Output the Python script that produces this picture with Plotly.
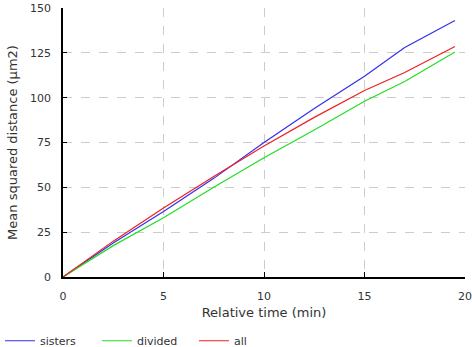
import plotly.graph_objects as go

time_sisters = [0, 2.5, 5, 7.5, 10, 12.5, 15, 17, 19.5]
msd_sisters = [0, 19, 36.5, 55, 75, 94, 112, 128, 143]
time_divided = [0, 2.5, 5, 7.5, 10, 12.5, 15, 17, 19.5]
msd_divided = [0, 17.5, 33, 50, 66.5, 82, 98, 109, 125.5]
time_all = [0, 2.5, 5, 7.5, 10, 12.5, 15, 17, 19.5]
msd_all = [0, 20, 38.5, 56, 73, 89, 104, 114, 128.5]

x_ticks = [0, 5, 10, 15, 20]
y_ticks = [0, 25, 50, 75, 100, 125, 150]

fig = go.Figure()
fig.add_trace(go.Scatter(x=time_sisters, y=msd_sisters, mode="lines", name="sisters",
                         line=dict(color="#3030ee", width=1.2)))
fig.add_trace(go.Scatter(x=time_divided, y=msd_divided, mode="lines", name="divided",
                         line=dict(color="#22dd22", width=1.2)))
fig.add_trace(go.Scatter(x=time_all, y=msd_all, mode="lines", name="all",
                         line=dict(color="#ee2020", width=1.2)))

font = "DejaVu Sans, Verdana, sans-serif"
fig.update_layout(
    width=472, height=347,
    margin=dict(l=63, r=7, t=8, b=70, autoexpand=False),
    plot_bgcolor="white", paper_bgcolor="white",
    font=dict(family=font, size=11, color="#333333"),
    showlegend=True,
    legend=dict(orientation="h", xref="container", yref="container",
                x=-0.011, y=0.018, xanchor="left", yanchor="middle",
                entrywidth=52, entrywidthmode="pixels",
                font=dict(size=11, color="#333333"), bgcolor="rgba(0,0,0,0)"),
)
fig.update_xaxes(
    range=[0, 20], tickvals=x_ticks, ticktext=[str(v) for v in x_ticks],
    showline=True, linecolor="black", linewidth=1.5,
    ticks="inside", ticklen=5, tickcolor="black", ticklabelstandoff=8,
    showgrid=True, gridcolor="#cccccc", griddash="dash", gridwidth=1,
    zeroline=False, mirror=False, automargin=False,
    title=dict(text="Relative time (min)", font=dict(size=13, color="#333333"), standoff=6),
)
fig.update_yaxes(
    range=[0, 150], tickvals=y_ticks, ticktext=[str(v) for v in y_ticks],
    showline=True, linecolor="black", linewidth=1.5,
    ticks="inside", ticklen=4, tickcolor="black", ticklabelstandoff=8,
    showgrid=True, gridcolor="#cccccc", griddash="dash", gridwidth=1,
    zeroline=False, automargin=False,
    title=dict(text="Mean squared distance (µm2)", font=dict(size=13, color="#333333"), standoff=9),
)
fig.write_html("out.html")
